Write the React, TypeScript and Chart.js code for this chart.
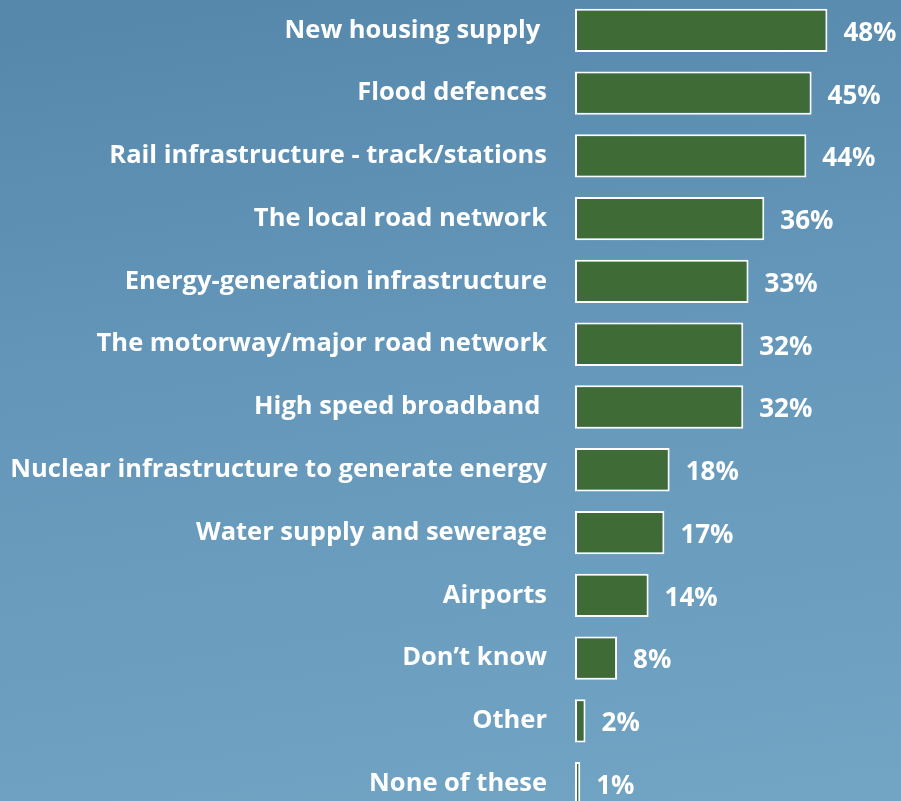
import React, { useEffect, useRef } from "react";
import { Chart, registerables } from "chart.js";

Chart.register(...registerables);

const categories = [
  "New housing supply ",
  "Flood defences",
  "Rail infrastructure - track/stations",
  "The local road network",
  "Energy-generation infrastructure",
  "The motorway/major road network",
  "High speed broadband ",
  "Nuclear infrastructure to generate energy",
  "Water supply and sewerage",
  "Airports",
  "Don\u2019t know",
  "Other",
  "None of these",
];
const values = [48, 45, 44, 36, 33, 32, 32, 18, 17, 14, 8, 2, 1];

const FONT_FAMILY = "'Open Sans', 'DejaVu Sans', sans-serif";
const LABEL_SIZE = 25.5;
const VALUE_SIZE = 26;

const valueLabels = {
  id: "valueLabels",
  afterDatasetsDraw(chart: any) {
    const ctx = chart.ctx;
    const meta = chart.getDatasetMeta(0);
    ctx.save();
    ctx.font = `bold ${VALUE_SIZE}px ${FONT_FAMILY}`;
    ctx.fillStyle = "#ffffff";
    ctx.textAlign = "left";
    ctx.textBaseline = "middle";
    meta.data.forEach((bar: any, i: number) => {
      ctx.fillText(`${values[i]}%`, bar.x + 16, bar.y + 3);
    });
    ctx.restore();
  },
};

export default function App() {
  const ref = useRef<HTMLCanvasElement | null>(null);
  useEffect(() => {
    document.body.style.margin = "0";
    const chart = new Chart(ref.current as HTMLCanvasElement, {
      type: "bar",
      data: {
        labels: categories,
        datasets: [
          {
            data: values,
            backgroundColor: "#3e6b36",
            borderColor: "#ffffff",
            borderWidth: 2,
            borderSkipped: false,
            categoryPercentage: 1,
            barPercentage: 0.69,
          },
        ],
      },
      options: {
        indexAxis: "y",
        responsive: false,
        animation: false,
        layout: { padding: 0 },
        plugins: {
          legend: { display: false },
          tooltip: { enabled: false },
        },
        scales: {
          x: {
            display: false,
            min: 0,
            max: 62,
          },
          y: {
            grid: { display: false, drawTicks: false },
            border: { display: false },
            ticks: {
              color: "#ffffff",
              padding: 28,
              autoSkip: false,
              font: { family: FONT_FAMILY, size: LABEL_SIZE, weight: "bold" },
            },
            afterFit(scale: any) {
              scale.width = 575;
              scale.paddingTop = 0;
              scale.paddingBottom = 0;
            },
          },
        },
      },
      plugins: [valueLabels],
    });
    return () => chart.destroy();
  }, []);

  return (
    <div
      style={{
        position: "fixed",
        left: 0,
        top: 0,
        width: 901,
        height: 801,
        overflow: "hidden",
        background: "linear-gradient(172deg, #5587ab 0%, #6597ba 45%, #72a4c4 100%)",
      }}
    >
      <canvas
        ref={ref}
        width={901}
        height={816}
        style={{ position: "absolute", left: 0, top: -1, width: 901, height: 816 }}
      />
    </div>
  );
}
